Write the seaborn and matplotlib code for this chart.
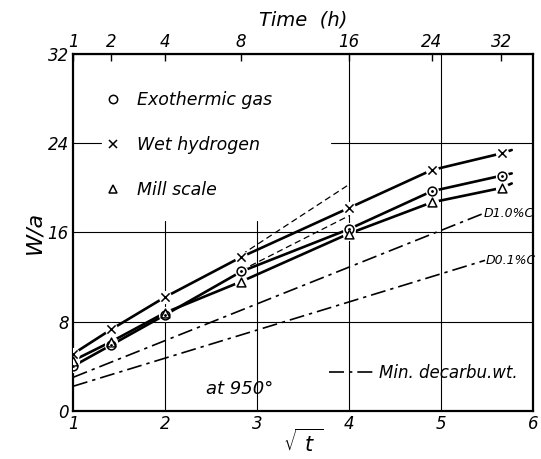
import numpy as np
import pandas as pd
import matplotlib
matplotlib.use("Agg")
import matplotlib.pyplot as plt
import seaborn as sns
from matplotlib.lines import Line2D

# measured points, x axis is sqrt of time in hours
sqrt_t = [1.0, 1.414, 2.0, 2.83, 4.0, 4.9, 5.66]
exo_gas = [4.0, 5.9, 8.6, 12.5, 16.3, 19.7, 21.1]
wet_h2 = [5.1, 7.3, 10.2, 13.8, 18.2, 21.6, 23.1]
mill_scale = [4.5, 6.2, 8.8, 11.6, 15.9, 18.7, 20.0]

# hand drawn curves run a little past the last point
curve_end_x = 5.77
exo_end = 21.3
wet_end = 23.4
mill_end = 20.4

# minimum decarburisation weight lines
d10_x = [1.0, 5.46]
d10_y = [3.0, 17.7]
d01_x = [1.0, 5.48]
d01_y = [2.2, 13.5]

# dashed parabolic extrapolations
dash_x = [2.83, 4.0]
dash_upper = [14.0, 20.3]
dash_lower = [12.6, 17.5]

hours = [1, 2, 4, 8, 16, 24, 32]
bottom_ticks = [1, 2, 3, 4, 5, 6]
left_ticks = [0, 8, 16, 24, 32]

sns.set_style("white")
plt.rcParams["font.family"] = ["DejaVu Sans"]
plt.rcParams["font.style"] = "italic"
plt.rcParams["mathtext.fontset"] = "dejavusans"
for key in ["text.color", "axes.labelcolor", "xtick.color", "ytick.color"]:
    plt.rcParams[key] = "black"

fig = plt.figure(figsize=(5.41, 4.59), dpi=100)
ax = fig.add_axes([0.135, 0.105, 0.85, 0.777])

pts = pd.DataFrame({"x": sqrt_t * 3,
                    "y": exo_gas + wet_h2 + mill_scale,
                    "series": ["Exothermic gas"] * 7 + ["Wet hydrogen"] * 7 + ["Mill scale"] * 7})

curves = pd.DataFrame({"x": (sqrt_t + [curve_end_x]) * 3,
                       "y": exo_gas + [exo_end] + wet_h2 + [wet_end] + mill_scale + [mill_end],
                       "series": ["exo"] * 8 + ["wet"] * 8 + ["mill"] * 8})

for name in ["exo", "wet", "mill"]:
    sns.lineplot(data=curves[curves.series == name], x="x", y="y", sort=False,
                 color="black", lw=1.9, ax=ax, estimator=None, zorder=3)

dashdot = (0, (9, 3, 2, 3))
sns.lineplot(x=d10_x, y=d10_y, color="black", lw=1.2, ax=ax, zorder=2)
ax.lines[-1].set_linestyle(dashdot)
sns.lineplot(x=d01_x, y=d01_y, color="black", lw=1.2, ax=ax, zorder=2)
ax.lines[-1].set_linestyle(dashdot)
sns.lineplot(x=dash_x, y=dash_upper, color="black", lw=0.9, ax=ax, zorder=2)
ax.lines[-1].set_linestyle((0, (5, 3)))
sns.lineplot(x=dash_x, y=dash_lower, color="black", lw=0.9, ax=ax, zorder=2)
ax.lines[-1].set_linestyle((0, (5, 3)))

# white halo under markers so the curves break at each point
ax.scatter(pts.x, pts.y, s=90, color="white", zorder=4, lw=0)
sns.scatterplot(data=pts[pts.series == "Exothermic gas"], x="x", y="y", marker="o",
                s=40, facecolor="white", edgecolor="black", linewidth=1.1, ax=ax, zorder=5)
sns.scatterplot(data=pts[pts.series == "Exothermic gas"], x="x", y="y", marker="o",
                s=5, color="black", ax=ax, zorder=6)
sns.scatterplot(data=pts[pts.series == "Wet hydrogen"], x="x", y="y", marker="x",
                s=35, color="black", linewidth=1.1, ax=ax, zorder=5)
sns.scatterplot(data=pts[pts.series == "Mill scale"], x="x", y="y", marker="^",
                s=40, facecolor="white", edgecolor="black", linewidth=1.1, ax=ax, zorder=5)

# partial grid lines as drawn on the original
for xv in [2, 3]:
    ax.axvline(xv, ymax=17 / 32, color="black", lw=0.8, zorder=1)
for xv in [4, 5]:
    ax.axvline(xv, color="black", lw=0.8, zorder=1)
for yv in [8, 16]:
    ax.axhline(yv, color="black", lw=0.8, zorder=1)
ax.axhline(24, xmin=0, xmax=0.06, color="black", lw=0.8, zorder=1)
ax.axhline(24, xmin=0.56, xmax=1, color="black", lw=0.8, zorder=1)

ax.set_xlim(1, 6)
ax.set_ylim(0, 32)
ax.set_xticks(bottom_ticks)
ax.set_yticks(left_ticks)
ax.tick_params(axis="both", direction="in", length=4, width=1, labelsize=12, pad=3)
ax.tick_params(axis="y", length=0)
for sp in ax.spines.values():
    sp.set_linewidth(1.6)
    sp.set_color("black")

top = ax.secondary_xaxis("top")
top.set_xticks(np.sqrt(hours), labels=[str(h) for h in hours])
top.tick_params(direction="in", length=5, width=1, labelsize=12, pad=2)
top.set_xlabel("Time  (h)", fontsize=14, labelpad=6)

ax.set_xlabel(r"$\sqrt{\ t\ }$", fontsize=15, labelpad=-3)
ax.set_ylabel("W/a", fontsize=16, labelpad=2)

# legend for the three atmospheres
handles = [Line2D([], [], marker="o", ls="none", mfc="white", mec="black", ms=6, mew=1.1),
           Line2D([], [], marker="x", ls="none", color="black", ms=6, mew=1.1),
           Line2D([], [], marker="^", ls="none", mfc="white", mec="black", ms=6, mew=1.1)]
leg = ax.legend(handles, ["Exothermic gas", "Wet hydrogen", "Mill scale"],
                loc="upper left", bbox_to_anchor=(0.03, 0.94), frameon=False,
                fontsize=12.5, labelspacing=1.55, handletextpad=0.8, handlelength=1.2)
ax.add_artist(leg)
ax.legend([Line2D([], [], color="black", lw=1.2, ls=dashdot)],
          ["Min. decarbu.wt."], loc="lower right", bbox_to_anchor=(1.0, 0.04),
          frameon=False, fontsize=12, handlelength=2.6, handletextpad=0.4)

ax.text(d10_x[1] + 0.01, d10_y[1], "D1.0%C", fontsize=9, va="center", ha="left")
ax.text(d01_x[1] + 0.01, d01_y[1], "D0.1%C", fontsize=9, va="center", ha="left")
ax.text(2.45, 2.0, "at 950°", fontsize=13, ha="left", va="center")

fig.savefig("out.png", dpi=100)
